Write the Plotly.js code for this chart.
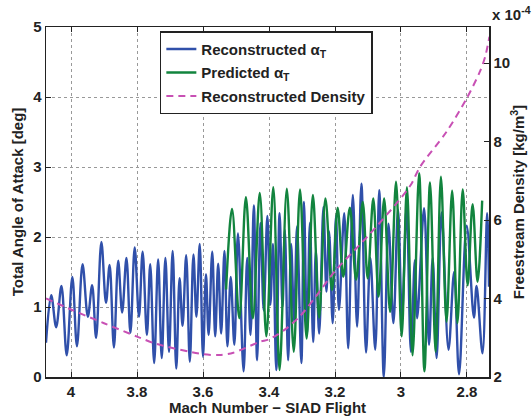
<!DOCTYPE html>
<html>
<head>
<meta charset="utf-8">
<script src="https://cdn.plot.ly/plotly-3.0.1.min.js"></script>
<style>html,body{margin:0;padding:0;background:#fff;}#chart{width:532px;height:416px;}</style>
</head>
<body>
<div id="chart"></div>
<script>
// Reconstructed total angle of attack (local extrema)
const blueMach = [4.0758,4.060,4.045,4.029,4.013,3.996,3.982,3.965,3.949,3.936,3.924,3.908,3.894,3.883,3.870,3.857,3.845,3.832,3.820,3.807,3.794,3.783,3.770,3.760,3.748,3.736,3.725,3.714,3.703,3.692,3.681,3.671,3.662,3.651,3.640,3.629,3.620,3.610,3.600,3.591,3.583,3.572,3.563,3.554,3.545,3.535,3.526,3.516,3.505,3.494,3.477,3.466,3.456,3.446,3.436,3.426,3.416,3.405,3.396,3.388,3.378,3.368,3.359,3.352,3.342,3.333,3.324,3.315,3.302,3.294,3.285,3.276,3.266,3.258,3.248,3.235,3.226,3.218,3.207,3.197,3.188,3.172,3.160,3.146,3.133,3.120,3.106,3.093,3.078,3.066,3.052,3.038,3.023,3.009,2.997,2.983,2.970,2.958,2.951,2.930,2.915,2.904,2.892,2.877,2.856,2.839,2.824,2.801,2.779,2.771,2.753,2.739,2.7333];
const blueAoA  = [0.49,1.17,0.71,1.30,0.31,1.43,0.44,1.61,0.86,1.31,0.56,1.93,1.06,1.60,0.42,1.66,0.92,1.70,0.63,1.85,0.86,1.79,0.60,1.61,0.20,1.68,0.27,1.70,0.36,1.80,0.12,1.41,0.73,1.74,0.22,1.75,0.86,1.90,0.29,1.47,0.60,1.79,0.58,1.62,0.62,1.80,0.44,1.43,0.46,2.05,0.08,1.70,0.60,2.45,0.24,2.20,0.95,2.30,1.03,1.90,0.10,2.34,1.00,2.10,0.24,1.90,0.80,2.15,0.20,2.50,0.60,2.20,0.50,1.80,0.62,2.43,1.22,2.08,0.77,2.30,0.96,2.34,0.41,2.60,0.72,2.76,0.35,1.70,0.39,2.67,0.00,2.19,0.77,2.39,0.86,2.43,0.36,1.67,0.84,2.41,0.46,1.70,0.27,2.35,0.39,1.50,0.04,2.16,0.85,1.30,0.34,2.34,1.29];

// Predicted total angle of attack
const greenMach = [3.530,3.512,3.490,3.470,3.449,3.428,3.408,3.387,3.368,3.346,3.325,3.306,3.286,3.267,3.248,3.229,3.209,3.192,3.175,3.155,3.136,3.116,3.101,3.084,3.068,3.051,3.033,3.015,2.998,2.982,2.965,2.945,2.929,2.912,2.895,2.879,2.862,2.845,2.829,2.813,2.798,2.783,2.768,2.754];
const greenAoA  = [1.25,2.40,0.84,2.57,0.84,2.63,0.58,2.71,0.10,2.69,0.36,2.68,0.55,2.60,0.85,2.55,1.24,2.42,1.43,2.42,1.39,2.50,1.41,2.55,1.15,2.55,0.93,2.79,0.58,2.71,0.31,2.91,0.08,2.78,0.36,2.86,0.79,2.66,0.77,2.68,1.31,2.47,1.36,2.52];

// Reconstructed freestream density (x 1e-4 kg/m^3)
const densMach = [4.0758,4.0,3.9,3.8,3.74,3.6,3.55,3.508,3.427,3.4,3.35,3.306,3.258,3.2,3.126,3.094,3.013,2.970,2.942,2.862,2.801,2.761,2.745,2.732];
const densVal  = [4.00,3.72,3.37,3.03,2.84,2.58,2.56,2.62,2.90,2.96,3.22,3.55,4.05,4.70,5.36,5.65,6.43,6.90,7.36,8.25,9.10,9.78,10.16,10.67];

const xTicks = [4,3.8,3.6,3.4,3.2,3,2.8];
const xTickText = ['4','3.8','3.6','3.4','3.2','3','2.8'];
const yTicks = [0,1,2,3,4,5];
const y2Ticks = [2,4,6,8,10];

const FONT = 'Liberation Sans, Arial, Helvetica, sans-serif';
const bold = (size) => ({family: FONT, size: size, color: '#222', weight: 700});

const traces = [
  {x: blueMach, y: blueAoA, type: 'scatter', mode: 'lines', name: 'Reconstructed α<sub>T</sub>', legendgroup: 'a',
   line: {color: 'rgb(48,80,170)', width: 2.4, shape: 'spline', smoothing: 1}},
  {x: greenMach, y: greenAoA, type: 'scatter', mode: 'lines', name: 'Predicted α<sub>T</sub>', legendgroup: 'b',
   line: {color: 'rgb(18,132,62)', width: 2.4, shape: 'spline', smoothing: 1}},
  {x: densMach, y: densVal, type: 'scatter', mode: 'lines', name: 'Reconstructed Density', yaxis: 'y2', legendgroup: 'c',
   line: {color: 'rgb(200,80,180)', width: 2, dash: '7px,5px', shape: 'spline', smoothing: 0.8}}
];

const layout = {
  width: 532, height: 416,
  margin: {l: 46, r: 43, t: 27, b: 39, pad: 0},
  paper_bgcolor: '#fff', plot_bgcolor: '#fff',
  showlegend: true,
  font: bold(14),
  xaxis: {
    range: [4.0758, 2.7333], tickvals: xTicks, ticktext: xTickText,
    ticks: 'inside', ticklen: 5, tickwidth: 1, tickcolor: '#222',
    showline: true, linecolor: '#222', linewidth: 1.5, mirror: 'ticks',
    showgrid: true, gridcolor: '#999', gridwidth: 1, griddash: 'dot',
    zeroline: false, tickfont: bold(15),
    title: {text: 'Mach Number − SIAD Flight', font: bold(15), standoff: 2}
  },
  yaxis: {
    range: [0, 5], tickvals: yTicks,
    ticks: 'inside', ticklen: 5, tickwidth: 1, tickcolor: '#222',
    showline: true, linecolor: '#222', linewidth: 1.5,
    showgrid: true, gridcolor: '#999', gridwidth: 1, griddash: 'dot',
    zeroline: false, tickfont: bold(15),
    title: {text: 'Total Angle of Attack [deg]', font: bold(15), standoff: 6}
  },
  yaxis2: {
    overlaying: 'y', side: 'right', range: [2, 10.92], tickvals: y2Ticks,
    ticks: 'inside', ticklen: 5, tickwidth: 1, tickcolor: '#222',
    showline: true, linecolor: '#222', linewidth: 1.5,
    showgrid: false, zeroline: false, tickfont: bold(15),
    title: {text: 'Freestream Density [kg/m<sup>3</sup>]', font: bold(15), standoff: 4}
  },
  legend: {
    x: 0.257, y: 0.988, xanchor: 'left', yanchor: 'top',
    bgcolor: '#fff', bordercolor: '#222', borderwidth: 1.5,
    font: bold(15), traceorder: 'grouped', tracegroupgap: 1, itemwidth: 30
  },
  annotations: [{
    xref: 'paper', yref: 'paper', x: 1.0, y: 1.0, xanchor: 'left', yanchor: 'bottom',
    yshift: 2, xshift: 1,
    text: 'x 10<sup>-4</sup>', showarrow: false, font: bold(15)
  }]
};

Plotly.newPlot('chart', traces, layout, {displayModeBar: false, staticPlot: true});
</script>
</body>
</html>
